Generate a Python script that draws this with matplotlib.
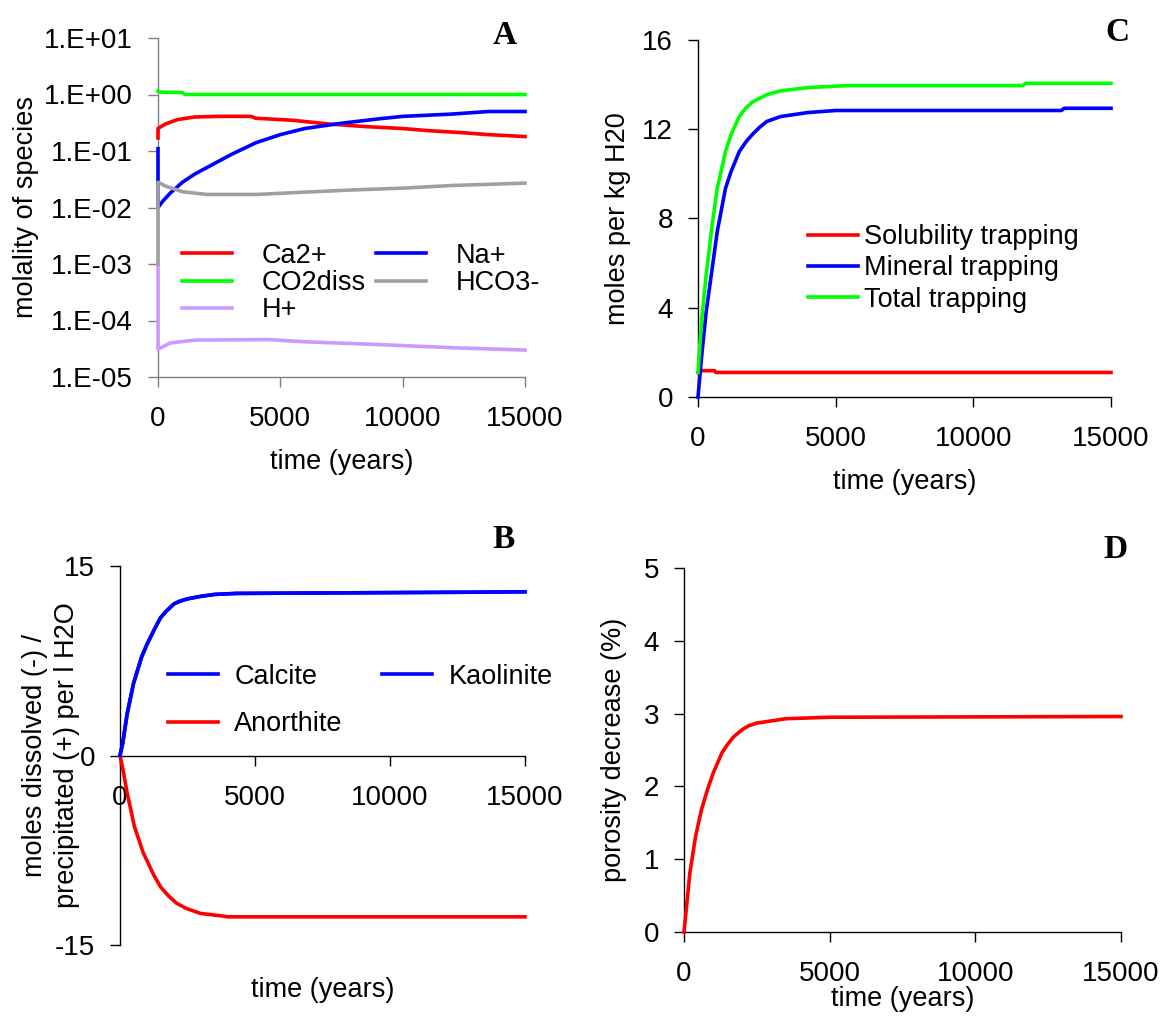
import matplotlib
matplotlib.use("Agg")
import matplotlib.pyplot as plt
from matplotlib.ticker import FixedLocator

plt.rcParams['font.family'] = ['Liberation Sans', 'DejaVu Sans']
plt.rcParams['axes.unicode_minus'] = False

FS = 19.5
TFS = 20

# ---------------- Data ----------------
# Panel A (molality of species, log scale)
t_ca = [0, 1, 300, 800, 1500, 2500, 3800, 4000, 5500, 7000, 8500, 10000, 11000, 12500, 13500, 15000]
ca = [0.17, 0.25, 0.30, 0.36, 0.40, 0.41, 0.41, 0.38, 0.35, 0.30, 0.27, 0.25, 0.23, 0.21, 0.195, 0.18]

t_co2 = [0, 100, 1000, 1100, 15000]
co2 = [1.15, 1.10, 1.08, 1.0, 1.0]

t_na = [0, 0, 200, 500, 1000, 1500, 2000, 3000, 4000, 5000, 6000, 7500, 9000, 10000, 12000, 13500, 15000]
na = [0.11, 0.01, 0.013, 0.018, 0.028, 0.039, 0.051, 0.087, 0.14, 0.195, 0.25, 0.31, 0.37, 0.41, 0.45, 0.50, 0.50]

t_hco3 = [0, 0, 300, 1000, 2000, 4000, 6000, 8000, 10000, 12000, 15000]
hco3 = [0.001, 0.028, 0.024, 0.019, 0.017, 0.017, 0.0187, 0.0205, 0.022, 0.0245, 0.027]

t_h = [0, 0, 500, 1500, 4500, 6000, 8000, 10000, 12000, 15000]
h = [0.001, 3.1e-5, 4.0e-5, 4.5e-5, 4.6e-5, 4.2e-5, 3.9e-5, 3.6e-5, 3.3e-5, 3.0e-5]

a_labels = ['Ca2+', 'CO2diss', 'H+', 'Na+', 'HCO3-']
a_yticks = [1e-5, 1e-4, 1e-3, 1e-2, 1e-1, 1e0, 1e1]
a_yticklabels = ['1.E-05', '1.E-04', '1.E-03', '1.E-02', '1.E-01', '1.E+00', '1.E+01']

# Panel B (moles dissolved / precipitated)
t_b = [0, 100, 265, 500, 800, 1000, 1300, 1500, 1700, 2000, 2200, 2500, 3000, 3500, 4300, 13300, 15000]
calcite = [0, 0.97, 3.3, 5.7, 7.8, 8.8, 10.1, 10.9, 11.4, 12.0, 12.2, 12.4, 12.6, 12.75, 12.83, 12.93, 12.96]
kaolinite = [0, 0.97, 3.3, 5.7, 7.8, 8.8, 10.1, 10.9, 11.4, 12.0, 12.2, 12.4, 12.6, 12.75, 12.83, 12.93, 12.96]
t_an = [0, 100, 265, 530, 860, 1260, 1500, 1790, 2100, 2450, 2980, 3770, 4000, 15000]
anorthite = [0, -1.0, -2.96, -5.6, -7.7, -9.5, -10.4, -11.1, -11.7, -12.1, -12.5, -12.7, -12.77, -12.77]
b_labels = ['Calcite', 'Anorthite', 'Kaolinite']

# Panel C (trapping)
t_c = [0, 50, 150, 300, 500, 700, 1000, 1200, 1500, 1750, 2000, 2500, 3000, 4000, 5500, 11800, 11900, 15000]
total = [1.1, 2.06, 3.7, 5.5, 7.57, 9.36, 11.0, 11.76, 12.57, 12.97, 13.24, 13.55, 13.72, 13.87, 13.96, 13.96, 14.06, 14.06]
t_m = [0, 150, 300, 500, 700, 1000, 1200, 1500, 1750, 2000, 2250, 2500, 3000, 4000, 5000, 13200, 13300, 15000]
mineral = [0, 2.06, 3.85, 5.63, 7.42, 9.36, 10.1, 11.0, 11.45, 11.8, 12.1, 12.35, 12.57, 12.75, 12.84, 12.84, 12.94, 12.94]
t_s = [0, 50, 600, 650, 15000]
solubility = [1.1, 1.18, 1.18, 1.1, 1.1]
c_labels = ['Solubility trapping', 'Mineral trapping', 'Total trapping']

# Panel D (porosity decrease)
t_d = [0, 100, 200, 400, 600, 800, 1000, 1300, 1500, 1700, 2000, 2200, 2500, 3000, 3500, 5000, 15000]
porosity = [0, 0.4, 0.81, 1.32, 1.68, 1.95, 2.18, 2.46, 2.58, 2.68, 2.78, 2.83, 2.87, 2.90, 2.93, 2.95, 2.96]

xticks = [0, 5000, 10000, 15000]

RED = '#FF0000'
GREEN = '#00FF00'
BLUE = '#0000FF'
GRAY = '#A0A0A0'
LAV = '#CC99FF'
LW = 2.6

W, H = 1167, 1016
fig = plt.figure(figsize=(W / 100, H / 100), dpi=100)


def add_ax(l, r, t, b):
    return fig.add_axes([l / W, 1 - b / H, (r - l) / W, (b - t) / H])


def style(ax, color='black'):
    ax.spines['top'].set_visible(False)
    ax.spines['right'].set_visible(False)
    for s in ('left', 'bottom'):
        ax.spines[s].set_linewidth(1.0)
        ax.spines[s].set_color(color)
    ax.tick_params(direction='out', length=7, width=1.0, color=color,
                   labelsize=TFS, pad=11)
    ax.patch.set_alpha(0)


def line(ax, x, y, **kw):
    return ax.plot(x, y, lw=LW, zorder=3, clip_on=False, **kw)[0]


# ---------------- Panel A ----------------
axA = add_ax(158, 525, 38, 377)
line(axA, t_ca, ca, color=RED, label=a_labels[0])
line(axA, t_co2, co2, color=GREEN, label=a_labels[1])
line(axA, t_h, h, color=LAV, label=a_labels[2])
line(axA, t_na, na, color=BLUE, label=a_labels[3])
line(axA, t_hco3, hco3, color=GRAY, label=a_labels[4])
axA.set_yscale('log')
axA.set_ylim(1e-5, 1e1)
axA.set_xlim(0, 15000)
axA.yaxis.set_major_locator(FixedLocator(a_yticks))
axA.set_yticklabels(a_yticklabels)
axA.yaxis.set_minor_locator(FixedLocator([]))
axA.set_xticks(xticks)
style(axA, color='#808080')
axA.tick_params(axis='x', pad=14)
axA.set_ylabel('molality of species', fontsize=FS, labelpad=4)
axA.set_xlabel('time (years)', fontsize=FS, labelpad=12)
axA.legend(loc='center left', bbox_to_anchor=(0.065, 0.277), ncol=2, frameon=False,
           fontsize=FS, handlelength=1.85, handletextpad=1.1, columnspacing=0.38,
           labelspacing=0.05, borderpad=0, borderaxespad=0)

# ---------------- Panel C ----------------
axC = add_ax(698, 1111, 40, 397)
line(axC, t_s, solubility, color=RED, label=c_labels[0])
line(axC, t_m, mineral, color=BLUE, label=c_labels[1])
line(axC, t_c, total, color=GREEN, label=c_labels[2])
axC.set_xlim(0, 15000)
axC.set_ylim(0, 16)
axC.set_yticks([0, 4, 8, 12, 16])
axC.set_xticks(xticks)
style(axC)
axC.tick_params(axis='x', pad=14)
axC.set_ylabel('moles per kg H20', fontsize=FS, labelpad=8)
axC.set_xlabel('time (years)', fontsize=FS, labelpad=12)
axC.legend(loc='center left', bbox_to_anchor=(0.266, 0.36), frameon=False,
           fontsize=FS, handlelength=1.85, handletextpad=0.23,
           labelspacing=0.2, borderpad=0, borderaxespad=0)

# ---------------- Panel B ----------------
axB = add_ax(120, 525, 566, 945)
lc = line(axB, t_b, calcite, color=BLUE, label=b_labels[0])
la = line(axB, t_an, anorthite, color=RED, label=b_labels[1])
lk = line(axB, t_b, kaolinite, color=BLUE, label=b_labels[2])
axB.set_xlim(0, 15000)
axB.set_ylim(-15, 15)
axB.set_yticks([-15, 0, 15])
axB.set_xticks(xticks)
style(axB)
axB.spines['bottom'].set_position(('data', 0))
axB.tick_params(axis='x', pad=14)
axB.set_ylabel('moles dissolved (-) /\nprecipitated (+) per l H2O', fontsize=FS,
               linespacing=1.3)
axB.yaxis.set_label_coords(-0.10, 0.5)
axB.set_xlabel('time (years)', fontsize=FS)
axB.xaxis.set_label_coords(0.5, -0.085)
axB.legend(handles=[lc, la, lk], loc='center left', bbox_to_anchor=(0.118, 0.645), ncol=2,
           frameon=False, fontsize=FS, handlelength=1.85, handletextpad=0.6,
           columnspacing=1.45, labelspacing=0.8, borderpad=0, borderaxespad=0)

# ---------------- Panel D ----------------
axD = add_ax(684, 1121, 568, 932)
line(axD, t_d, porosity, color=RED)
axD.set_xlim(0, 15000)
axD.set_ylim(0, 5)
axD.set_yticks([0, 1, 2, 3, 4, 5])
axD.set_xticks(xticks)
style(axD)
axD.tick_params(axis='x', pad=14)
axD.set_ylabel('porosity decrease (%)', fontsize=FS, labelpad=12)
axD.set_xlabel('time (years)', fontsize=FS, labelpad=-1)

# Panel letters
for letter, x, y in [('A', 505, 35), ('C', 1117, 33), ('B', 504, 540), ('D', 1115, 550)]:
    fig.text(x / W, 1 - y / H, letter, fontsize=24, fontweight='bold',
             family=['Liberation Serif', 'DejaVu Serif'], ha='center', va='center')

fig.savefig('out.png', dpi=100)
